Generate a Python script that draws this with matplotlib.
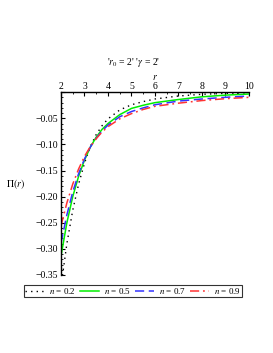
import matplotlib
matplotlib.use("Agg")
import matplotlib.pyplot as plt
from matplotlib.ticker import MultipleLocator, FuncFormatter

r = [2.0, 2.25, 2.5, 2.75, 3.0, 3.25, 3.5, 3.75, 4.0, 4.5, 5.0, 5.5, 6.0, 7.0, 8.0, 9.0, 10.0]
pi_n02 = [-0.372, -0.290, -0.226, -0.176, -0.136, -0.104, -0.081, -0.064, -0.051, -0.034,
          -0.024, -0.018, -0.013, -0.0073, -0.0040, -0.0022, -0.0012]
pi_n05 = [-0.314, -0.250, -0.200, -0.161, -0.130, -0.105, -0.086, -0.071, -0.060, -0.043,
          -0.031, -0.025, -0.020, -0.014, -0.0088, -0.0056, -0.0035]
pi_n07 = [-0.289, -0.235, -0.191, -0.156, -0.128, -0.105, -0.088, -0.074, -0.063, -0.047,
          -0.037, -0.030, -0.024, -0.017, -0.013, -0.0098, -0.0073]
pi_n09 = [-0.256, -0.212, -0.176, -0.147, -0.123, -0.104, -0.089, -0.076, -0.066, -0.051,
          -0.041, -0.033, -0.027, -0.021, -0.016, -0.0124, -0.0098]
labels = ["n = 0.2", "n = 0.5", "n = 0.7", "n = 0.9"]

plt.rcParams['font.family'] = ['Liberation Serif', 'DejaVu Serif']
plt.rcParams['mathtext.fontset'] = 'stix'

fig = plt.figure(figsize=(2.73, 3.53), dpi=100)
ax = fig.add_axes([0.2234, 0.221, 0.6886, 0.5178])

ax.plot(r, pi_n02, color='black', linestyle=(0, (1, 3)), lw=1.0, label=r'$n$ = 0.2')
ax.plot(r, pi_n05, color='#00ee00', linestyle='-', lw=1.1, label=r'$n$ = 0.5')
ax.plot(r, pi_n07, color='#3333ff', linestyle=(0, (6, 3)), lw=1.1, label=r'$n$ = 0.7')
ax.plot(r, pi_n09, color='#ff3333', linestyle=(0, (6, 2.5, 1.2, 2.5)), lw=1.1, label=r'$n$ = 0.9')

ax.set_xlim(2, 10)
ax.set_ylim(-0.35, 0)

for s in ['bottom', 'right']:
    ax.spines[s].set_visible(False)
ax.spines['top'].set_linewidth(1.0)
ax.spines['left'].set_linewidth(1.0)

ax.xaxis.set_ticks_position('top')
ax.xaxis.set_label_position('top')
ax.xaxis.set_major_locator(MultipleLocator(1))
ax.xaxis.set_minor_locator(MultipleLocator(0.5))
ax.yaxis.set_major_locator(MultipleLocator(0.05))
ax.yaxis.set_minor_locator(MultipleLocator(0.01))
ax.yaxis.set_major_formatter(FuncFormatter(lambda v, p: ('\u2212%.2f' % abs(v)) if v < -1e-9 else ''))
ax.tick_params(axis='x', which='major', direction='in', length=3, width=0.8, labelsize=7, pad=1)
ax.tick_params(axis='x', which='minor', direction='in', length=1.5, width=0.6)
ax.tick_params(axis='y', which='major', direction='in', length=3, width=0.8, labelsize=7, pad=2)
ax.tick_params(axis='y', which='minor', direction='in', length=1.5, width=0.6)

ax.set_xlabel(r'$r$', fontsize=7, labelpad=1)
fig.text(0.055, 0.478, r'$\Pi(r)$', fontsize=7, ha='center', va='center')
fig.text(0.49, 0.822, "'$r_0$ = 2' '$\\gamma$ = 2'", fontsize=7, ha='center', va='center')

leg = fig.legend(loc='center', bbox_to_anchor=(0.487, 0.176), ncol=4, fontsize=6.5,
                 frameon=True, fancybox=False, edgecolor='black', handlelength=2.1,
                 handletextpad=0.5, columnspacing=0.5, borderpad=0.15, borderaxespad=0)
leg.get_frame().set_linewidth(0.8)

fig.savefig('out.png', dpi=100)
